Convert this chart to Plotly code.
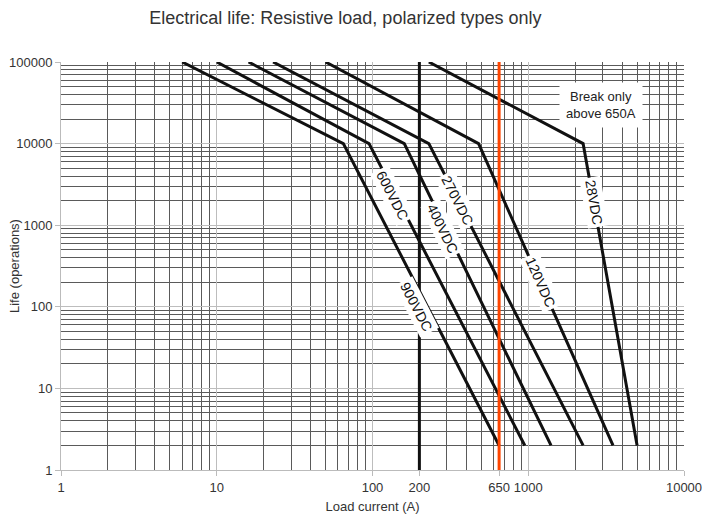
import numpy as np
import plotly.graph_objects as go

# ---- data ----
voltages = ["900VDC", "600VDC", "400VDC", "270VDC", "120VDC", "28VDC"]
life_points = [100000, 10000, 2]                 # operations at each breakpoint
current_at_100k = [6, 10, 16, 23, 50, 230]       # A at 100 000 operations
current_at_10k = [65, 95, 160, 230, 480, 2250]   # A at 10 000 operations (knee)
current_at_2 = [650, 950, 1400, 2250, 3500, 5000]  # A at 2 operations
label_life = [100, 2300, 900, 2000, 200, 1900]   # where each voltage label sits

limit_200 = [200, 200]
limit_650 = [650, 650]
limit_life = [1, 100000]

x_ticks = [1, 10, 100, 200, 650, 1000, 10000]
y_ticks = [1, 10, 100, 1000, 10000, 100000]

note_text = "Break only<br>above 650A"
note_pos = (2930, 29700)

# label pixel nudges (style)
label_xshift = [-11, -3, -3, 0, 0, 0]

# ---- layout geometry ----
W, H = 702, 517
ML, MR, MT, MB = 61, 18, 62, 47
PW, PH = W - ML - MR, H - MT - MB
X_DEC, Y_DEC = 4, 5
px_x = PW / X_DEC
px_y = PH / Y_DEC

FONT = "Arial, Liberation Sans, sans-serif"

fig = go.Figure()

for i, name in enumerate(voltages):
    fig.add_trace(go.Scatter(
        x=[current_at_100k[i], current_at_10k[i], current_at_2[i]],
        y=life_points,
        mode="lines", name=name, showlegend=False,
        line=dict(color="#111111", width=3),
        hoverinfo="x+y+name",
    ))

fig.add_trace(go.Scatter(x=limit_200, y=limit_life, mode="lines",
                         line=dict(color="#111111", width=3),
                         showlegend=False, hoverinfo="skip"))
fig.add_trace(go.Scatter(x=limit_650, y=limit_life, mode="lines",
                         line=dict(color="#ff4500", width=3),
                         showlegend=False, hoverinfo="skip"))

annotations = []
for i, name in enumerate(voltages):
    lx1, lx2 = np.log10(current_at_10k[i]), np.log10(current_at_2[i])
    ly1, ly2 = np.log10(life_points[1]), np.log10(life_points[2])
    ly = np.log10(label_life[i])
    t = (ly - ly1) / (ly2 - ly1)
    lx = lx1 + t * (lx2 - lx1)
    ang = np.degrees(np.arctan2((ly1 - ly2) * px_y, (lx2 - lx1) * px_x))
    annotations.append(dict(
        x=lx, y=ly, xref="x", yref="y", text=name, showarrow=False,
        textangle=ang, bgcolor="white", borderpad=2, xshift=label_xshift[i],
        font=dict(family=FONT, size=14, color="#111111"),
    ))

annotations.append(dict(
    x=np.log10(note_pos[0]), y=np.log10(note_pos[1]), xref="x", yref="y",
    text=note_text, showarrow=False, bgcolor="white", borderpad=6,
    font=dict(family=FONT, size=13, color="#222222"),
))

# y-axis title, placed as in the reference
annotations.append(dict(
    x=(14 - ML) / PW, y=0.5, xref="paper", yref="paper",
    xanchor="center", yanchor="middle", textangle=-90,
    text="Life (operations)", showarrow=False,
    font=dict(family=FONT, size=13, color="#333333"),
))

minor_x = [k * 10 ** n for n in range(0, 4) for k in range(2, 10)]
minor_y = [k * 10 ** n for n in range(0, 5) for k in range(2, 10)]

axis_common = dict(
    showline=True, linecolor="#bbbbbb", linewidth=1,
    ticks="outside", ticklen=5, tickcolor="#bbbbbb",
    showgrid=True, gridcolor="#bdbdbd", gridwidth=1,
    tickfont=dict(family=FONT, size=13, color="#333333"),
    zeroline=False, mirror=False, ticklabeloverflow="allow",
)

fig.update_layout(
    width=W, height=H,
    margin=dict(l=ML, r=MR, t=MT, b=MB, autoexpand=False),
    paper_bgcolor="white", plot_bgcolor="white",
    font=dict(family=FONT, size=13, color="#333333"),
    title=dict(text="Electrical life: Resistive load, polarized types only",
               x=0.492, xanchor="center", y=0.965, yanchor="middle",
               font=dict(family=FONT, size=18, color="#333333")),
    xaxis=dict(type="log", range=[0, X_DEC], tickvals=x_ticks,
               ticktext=[str(v) for v in x_ticks],
               title=dict(text="Load current (A)", standoff=8,
                          font=dict(family=FONT, size=13, color="#333333")),
               minor=dict(tickmode="array", tickvals=minor_x, showgrid=True,
                          gridcolor="#5a5a5a", gridwidth=1, ticks=""),
               **axis_common),
    yaxis=dict(type="log", range=[0, Y_DEC], tickvals=y_ticks,
               ticktext=[str(v) for v in y_ticks],
               minor=dict(tickmode="array", tickvals=minor_y, showgrid=True,
                          gridcolor="#5a5a5a", gridwidth=1, ticks=""),
               **axis_common),
    annotations=annotations,
)

# remove the browser's default 8px body margin so the 702x517 figure fits exactly
fig.write_html("out.html",
               config={"displayModeBar": False},
               post_script="document.body.style.margin='0';"
                           "document.body.style.overflow='hidden';")
